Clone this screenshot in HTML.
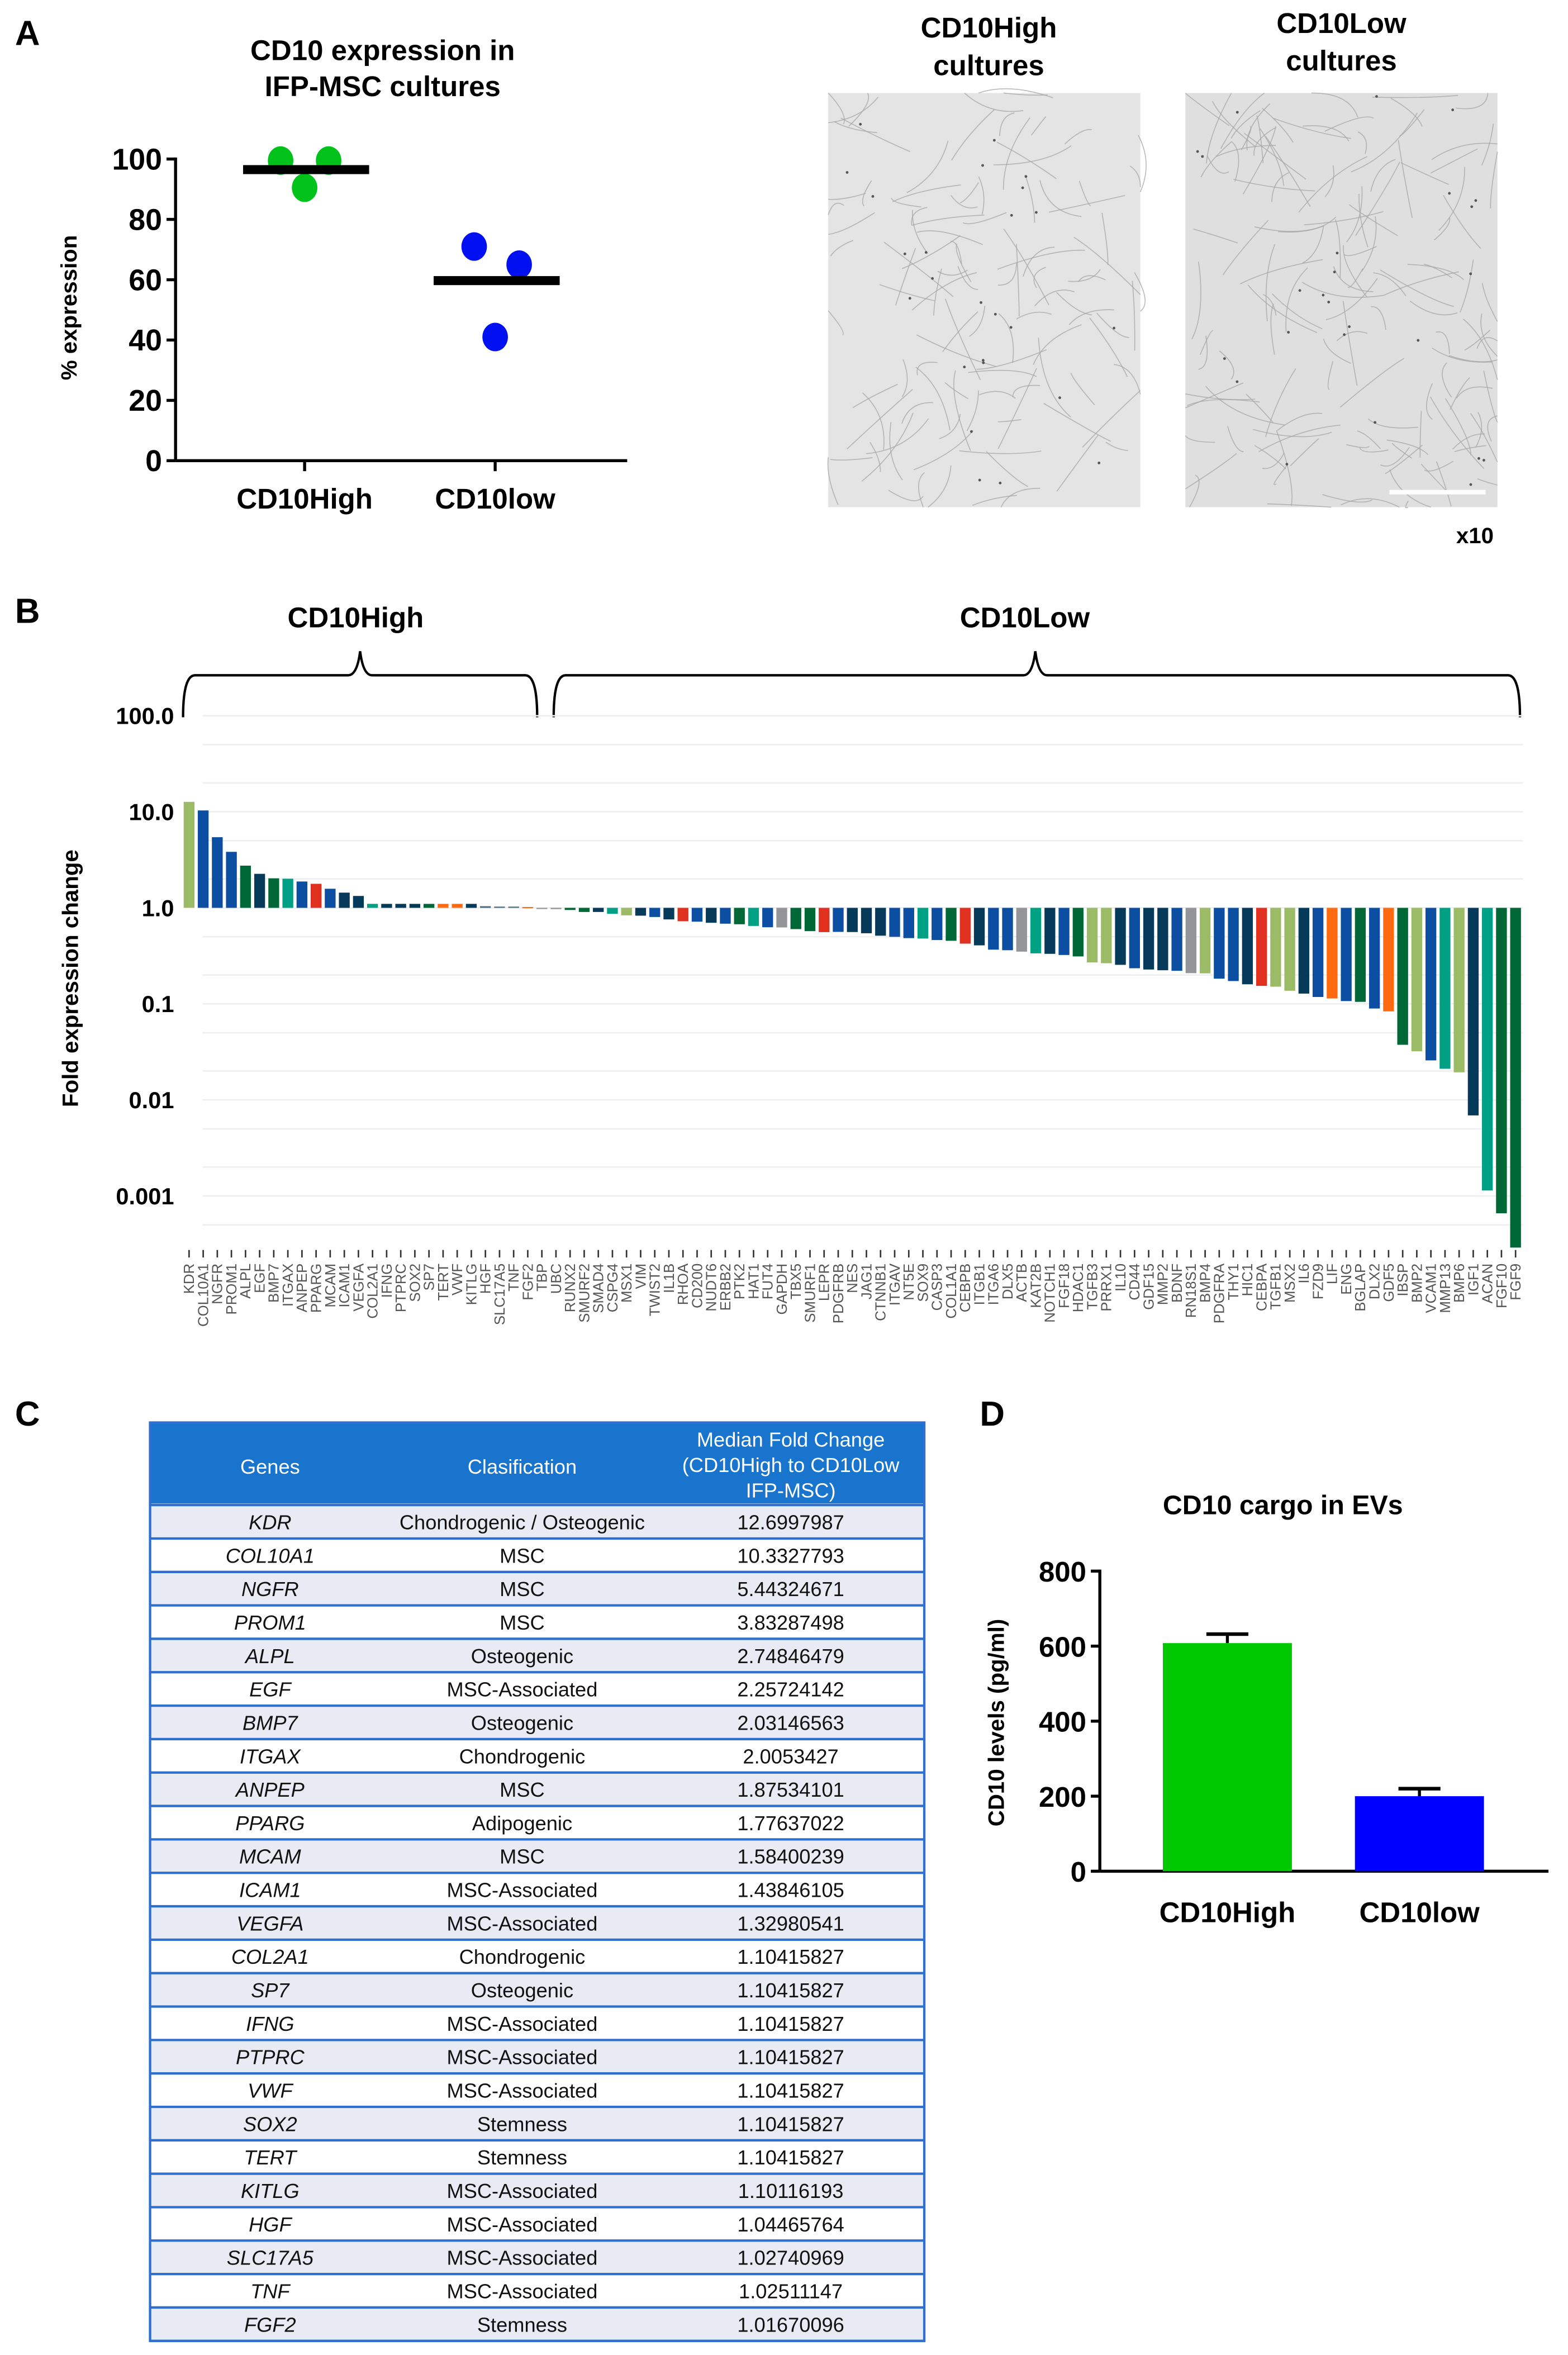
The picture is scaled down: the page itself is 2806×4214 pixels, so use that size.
<!DOCTYPE html>
<html><head><meta charset="utf-8"><style>
html,body{margin:0;padding:0;background:#fff;}
svg{display:block;font-family:"Liberation Sans",Arial,sans-serif;}
</style></head><body>
<svg id="fig" width="2806" height="4214" viewBox="0 0 1045 1569.4" xmlns="http://www.w3.org/2000/svg">
<rect x="0" y="0" width="1045" height="1569.4" fill="#fff"/>
<g>
<text x="10" y="30" font-size="23" font-weight="bold">A</text>
<text x="255" y="40" font-size="19" font-weight="bold" text-anchor="middle">CD10 expression in</text>
<text x="255" y="64" font-size="19" font-weight="bold" text-anchor="middle">IFP-MSC cultures</text>
<g id="scatterA"></g>
<text transform="translate(51,205) rotate(-90)" font-size="15" font-weight="bold" text-anchor="middle">% expression</text>
</g>
<g>
<text x="659" y="25" font-size="19" font-weight="bold" text-anchor="middle">CD10High</text>
<text x="659" y="50" font-size="19" font-weight="bold" text-anchor="middle">cultures</text>
<text x="894" y="22" font-size="19" font-weight="bold" text-anchor="middle">CD10Low</text>
<text x="894" y="47" font-size="19" font-weight="bold" text-anchor="middle">cultures</text>
<rect x="552" y="62" width="208" height="276" fill="#e4e4e4"/>
<rect x="790" y="62" width="208" height="276" fill="#dfdfdf"/>
<g id="texture"></g>
<line x1="926" y1="328" x2="990" y2="328" stroke="#fff" stroke-width="3"/>
<text x="983" y="362" font-size="15" font-weight="bold" text-anchor="middle">x10</text>
</g>
<g>
<text x="10" y="415" font-size="23" font-weight="bold">B</text>
<text x="237" y="418" font-size="19" font-weight="bold" text-anchor="middle">CD10High</text>
<text x="683" y="418" font-size="19" font-weight="bold" text-anchor="middle">CD10Low</text>
<path d="M122,478 Q122,450 130,450 L232,450 Q238,450 240,434 Q242,450 248,450 L350,450 Q358,450 358,478" fill="none" stroke="#000" stroke-width="1.6"/>
<path d="M369,478 Q369,450 377,450 L682,450 Q688,450 690,434 Q692,450 698,450 L1005,450 Q1013,450 1013,478" fill="none" stroke="#000" stroke-width="1.6"/>
<text transform="translate(52,652) rotate(-90)" font-size="15" font-weight="bold" text-anchor="middle">Fold expression change</text>
<g id="barsB"></g>
</g>
<g>
<text x="10" y="950" font-size="23" font-weight="bold">C</text>
<g id="tableC"></g>
</g>
<g>
<text x="653" y="950" font-size="23" font-weight="bold">D</text>
<text x="855" y="1009" font-size="18" font-weight="bold" text-anchor="middle">CD10 cargo in EVs</text>
<text transform="translate(669,1148) rotate(-90)" font-size="15" font-weight="bold" text-anchor="middle">CD10 levels  (pg/ml)</text>
<g id="barD"></g>
</g>
</svg>
<script>
const NS='http://www.w3.org/2000/svg';
function mk(tag,attrs,parent,text){const e=document.createElementNS(NS,tag);for(const k in attrs)e.setAttribute(k,attrs[k]);if(text!==undefined)e.textContent=text;parent.appendChild(e);return e;}

const aCategories=['CD10High','CD10low'];
const aHighValues=[99.5,99.5,90.5];
const aLowValues=[71,65,41];
const aMeans=[96.5,59.7];
const aTicks=[0,20,40,60,80,100];

const bGenes=['KDR','COL10A1','NGFR','PROM1','ALPL','EGF','BMP7','ITGAX','ANPEP','PPARG','MCAM','ICAM1','VEGFA','COL2A1','IFNG','PTPRC','SOX2','SP7','TERT','VWF','KITLG','HGF','SLC17A5','TNF','FGF2','TBP','UBC','RUNX2','SMURF2','SMAD4','CSPG4','MSX1','VIM','TWIST2','IL1B','RHOA','CD200','NUDT6','ERBB2','PTK2','HAT1','FUT4','GAPDH','TBX5','SMURF1','LEPR','PDGFRB','NES','JAG1','CTNNB1','ITGAV','NT5E','SOX9','CASP3','COL1A1','CEBPB','ITGB1','ITGA6','DLX5','ACTB','KAT2B','NOTCH1','FGF18','HDAC1','TGFB3','PRRX1','IL10','CD44','GDF15','MMP2','BDNF','RN18S1','BMP4','PDGFRA','THY1','HIC1','CEBPA','TGFB1','MSX2','IL6','FZD9','LIF','ENG','BGLAP','DLX2','GDF5','IBSP','BMP2','VCAM1','MMP13','BMP6','IGF1','ACAN','FGF10','FGF9'];
const bFoldChange=[12.70,10.33,5.44,3.83,2.75,2.26,2.03,2.01,1.88,1.78,1.58,1.44,1.33,1.10,1.10,1.10,1.10,1.10,1.10,1.10,1.10,1.04,1.03,1.03,1.02,0.99,0.97,0.95,0.906,0.906,0.867,0.836,0.829,0.803,0.758,0.725,0.718,0.699,0.684,0.675,0.648,0.628,0.625,0.601,0.572,0.559,0.562,0.56,0.544,0.513,0.499,0.484,0.479,0.462,0.454,0.424,0.407,0.367,0.362,0.35,0.336,0.332,0.323,0.312,0.27,0.265,0.255,0.235,0.228,0.224,0.221,0.209,0.208,0.183,0.173,0.16,0.154,0.151,0.137,0.128,0.118,0.114,0.107,0.105,0.0895,0.0836,0.0375,0.0321,0.0258,0.0211,0.0194,0.0069,0.00114,0.00066,0.00029];
const bClass=['lg','bl','bl','bl','gr','nv','gr','te','bl','rd','bl','nv','nv','te','nv','nv','nv','gr','or','or','nv','sl','sl','sl','or','gy','gy','gr','gr','nv','te','lg','nv','bl','nv','rd','bl','nv','bl','gr','te','bl','gy','gr','gr','rd','bl','nv','nv','nv','bl','bl','te','bl','gr','rd','nv','bl','bl','gy','te','nv','bl','gr','lg','lg','nv','bl','nv','nv','bl','gy','lg','bl','bl','nv','rd','lg','lg','nv','bl','or','bl','gr','bl','or','gr','lg','bl','te','lg','nv','te','gr','gr'];
const bTickLabels=['100.0','10.0','1.0','0.1','0.01','0.001'];
const bTickValues=[100,10,1,0.1,0.01,0.001];
const bMinorValues=[50,20,5,2,0.5,0.2,0.05,0.02,0.005,0.002,0.0005];
const palette={lg:'#9bbb67',bl:'#0b4ea2',gr:'#006837',nv:'#063a5a',te:'#00a085',rd:'#e03020',or:'#ff6a10',gy:'#939598',sl:'#4a6a80'};

const cGenes=['KDR','COL10A1','NGFR','PROM1','ALPL','EGF','BMP7','ITGAX','ANPEP','PPARG','MCAM','ICAM1','VEGFA','COL2A1','SP7','IFNG','PTPRC','VWF','SOX2','TERT','KITLG','HGF','SLC17A5','TNF','FGF2'];
const cClass=['Chondrogenic / Osteogenic','MSC','MSC','MSC','Osteogenic','MSC-Associated','Osteogenic','Chondrogenic','MSC','Adipogenic','MSC','MSC-Associated','MSC-Associated','Chondrogenic','Osteogenic','MSC-Associated','MSC-Associated','MSC-Associated','Stemness','Stemness','MSC-Associated','MSC-Associated','MSC-Associated','MSC-Associated','Stemness'];
const cFold=['12.6997987','10.3327793','5.44324671','3.83287498','2.74846479','2.25724142','2.03146563','2.0053427','1.87534101','1.77637022','1.58400239','1.43846105','1.32980541','1.10415827','1.10415827','1.10415827','1.10415827','1.10415827','1.10415827','1.10415827','1.10116193','1.04465764','1.02740969','1.02511147','1.01670096'];

const dCategories=['CD10High','CD10low'];
const dValues=[608,200];
const dErrors=[24,20];
const dTicks=[0,200,400,600,800];

(function(){
  const g=document.getElementById('scatterA');
  const y=v=>307-2.01*v;
  const ax0=117, ax1=418;
  let e=mk('line',{x1:ax0,y1:y(100)-1,x2:ax0,y2:307,stroke:'#000','stroke-width':2},g);
  
  
  e=mk('line',{x1:ax0,y1:307,x2:ax1,y2:307,stroke:'#000','stroke-width':2},g);
  
  
  aTicks.forEach(t=>{
    mk('line',{x1:ax0-6,y1:y(t),x2:ax0,y2:y(t),stroke:'#000','stroke-width':2},g);
    const tx=mk('text',{x:ax0-9,y:y(t)+7,'font-size':20,'font-weight':'bold','text-anchor':'end'},g,String(t));
    
    
  });
  const cx=[203,330];
  aCategories.forEach((c,i)=>{
    mk('line',{x1:cx[i],y1:307,x2:cx[i],y2:314,stroke:'#000','stroke-width':2},g);
    const tx=mk('text',{x:cx[i],y:339,'font-size':19,'font-weight':'bold','text-anchor':'middle'},g,c);
    
    
  });
  const offs=[-16,16,0];
  aHighValues.forEach((v,i)=>{
    const c=mk('ellipse',{cx:cx[0]+offs[i],cy:y(v),rx:8.5,ry:9.5,fill:'#00c21a'},g);
    
    
  });
  const offs2=[-14,16,0];
  aLowValues.forEach((v,i)=>{
    const c=mk('ellipse',{cx:cx[1]+offs2[i],cy:y(v),rx:8.5,ry:9.5,fill:'#0010f0'},g);
    
    
  });
  aMeans.forEach((m,i)=>{
    const l=mk('rect',{x:cx[i]-41,y:y(m)-3,width:84,height:6,fill:'#000'},g);
    
    
  });
})();

(function(){
  const g=document.getElementById('texture');
  const boxes=[[552,62],[790,62]];
  boxes.forEach((b,bi)=>{
    const n=bi?140:110;
    for(let k=0;k<n;k++){
      const s=k*12.9898+bi*78.233;
      const r=t=>{const v=Math.sin(s+t)*43758.5453;return v-Math.floor(v);};
      const x1=b[0]+r(1)*208, y1=b[1]+r(2)*276;
      const ang=r(3)*Math.PI*2, len=15+r(4)*45;
      const x2=Math.min(b[0]+208,Math.max(b[0],x1+Math.cos(ang)*len));
      const y2=Math.min(b[1]+276,Math.max(b[1],y1+Math.sin(ang)*len));
      const qx=(x1+x2)/2+(r(5)-0.5)*20, qy=(y1+y2)/2+(r(6)-0.5)*20;
      mk('path',{d:`M${x1},${y1} Q${qx},${qy} ${x2},${y2}`,fill:'none',stroke:'#a8a8a8','stroke-width':0.6,opacity:0.8},g);
    }
    for(let k=0;k<25;k++){
      const s=k*7.31+bi*3.7;
      const r=t=>{const v=Math.sin(s+t)*23421.631;return v-Math.floor(v);};
      mk('circle',{cx:b[0]+r(1)*208,cy:b[1]+r(2)*276,r:0.9,fill:'#555'},g);
    }
  });
})();

(function(){
  const g=document.getElementById('barsB');
  const y=v=>605-64*Math.log10(v);
  const x=i=>126+9.405*i;
  const bw=7.2;
  bMinorValues.concat(bTickValues).forEach(v=>{
    const l=mk('line',{x1:135,y1:y(v),x2:1015,y2:y(v),stroke:'#efefef','stroke-width':1},g);
    
    
  });
  bTickValues.forEach((v,i)=>{
    const t=mk('text',{x:116,y:y(v)+5.5,'font-size':15.5,'font-weight':'bold','text-anchor':'end'},g,bTickLabels[i]);
    
    
  });
  bGenes.forEach((gn,i)=>{
    const v=bFoldChange[i];
    const y0=y(1), y1=y(v);
    const r=mk('rect',{x:x(i)-bw/2,y:Math.min(y0,y1),width:bw,height:Math.max(0.8,Math.abs(y1-y0)),fill:palette[bClass[i]]},g);
    
    
    mk('line',{x1:x(i),y1:833,x2:x(i),y2:838,stroke:'#333','stroke-width':1},g);
    const t=mk('text',{transform:`translate(${x(i)+3.3},842) rotate(-90)`,'font-size':9.6,fill:'#555','text-anchor':'end'},g,gn);
    
    
  });
})();

(function(){
  const g=document.getElementById('tableC');
  const X0=100,X1=616,hy0=948,hy1=1002,rowH=(1560-1003)/25;
  const cols=[180,348,527];
  let e=mk('rect',{x:X0,y:hy0,width:X1-X0,height:hy1-hy0,fill:'#1874cd'},g);
  
  
  const hs={'font-size':13.5,fill:'#fff','text-anchor':'middle'};
  mk('text',Object.assign({x:cols[0],y:982},hs),g,'Genes');
  mk('text',Object.assign({x:cols[1],y:982},hs),g,'Clasification');
  mk('text',Object.assign({x:cols[2],y:964},hs),g,'Median Fold Change');
  mk('text',Object.assign({x:cols[2],y:981},hs),g,'(CD10High to CD10Low');
  mk('text',Object.assign({x:cols[2],y:998},hs),g,'IFP-MSC)');
  cGenes.forEach((gn,i)=>{
    const ry=1003+i*rowH;
    const r=mk('rect',{x:X0,y:ry,width:X1-X0,height:rowH,fill:i%2===0?'#e8eaf4':'#ffffff'},g);
    
    
    const ts={'font-size':13.5,fill:'#111','text-anchor':'middle'};
    mk('text',Object.assign({x:cols[0],y:ry+rowH/2+5,'font-style':'italic'},ts),g,gn);
    mk('text',Object.assign({x:cols[1],y:ry+rowH/2+5},ts),g,cClass[i]);
    mk('text',Object.assign({x:cols[2],y:ry+rowH/2+5},ts),g,cFold[i]);
    mk('line',{x1:X0,y1:ry,x2:X1,y2:ry,stroke:'#2f6fd0','stroke-width':1.6},g);
  });
  mk('line',{x1:X0,y1:1560,x2:X1,y2:1560,stroke:'#2f6fd0','stroke-width':1.6},g);
  mk('rect',{x:X0,y:hy0,width:X1-X0,height:1560-hy0,fill:'none',stroke:'#2f6fd0','stroke-width':1.6},g);
})();

(function(){
  const g=document.getElementById('barD');
  const y=v=>1247-0.25*v;
  const ax0=733;
  mk('line',{x1:ax0,y1:y(800)-1,x2:ax0,y2:1247,stroke:'#000','stroke-width':2},g);
  mk('line',{x1:ax0,y1:1247,x2:1032,y2:1247,stroke:'#000','stroke-width':2},g);
  dTicks.forEach(t=>{
    mk('line',{x1:ax0-6,y1:y(t),x2:ax0,y2:y(t),stroke:'#000','stroke-width':2},g);
    const tx=mk('text',{x:ax0-9,y:y(t)+7,'font-size':19,'font-weight':'bold','text-anchor':'end'},g,String(t));
    
    
  });
  const cx=[818,946], cols=['#00c800','#0000ff'];
  dCategories.forEach((c,i)=>{
    const top=y(dValues[i]+dErrors[i]);
    mk('line',{x1:cx[i],y1:top,x2:cx[i],y2:y(dValues[i]),stroke:'#000','stroke-width':2},g);
    mk('line',{x1:cx[i]-14,y1:top,x2:cx[i]+14,y2:top,stroke:'#000','stroke-width':2.4},g);
    const r=mk('rect',{x:cx[i]-43,y:y(dValues[i]),width:86,height:1247-y(dValues[i]),fill:cols[i]},g);
    
    
    const tx=mk('text',{x:cx[i],y:1281,'font-size':19,'font-weight':'bold','text-anchor':'middle'},g,c);
    
    
  });
})();
</script>
</body></html>
